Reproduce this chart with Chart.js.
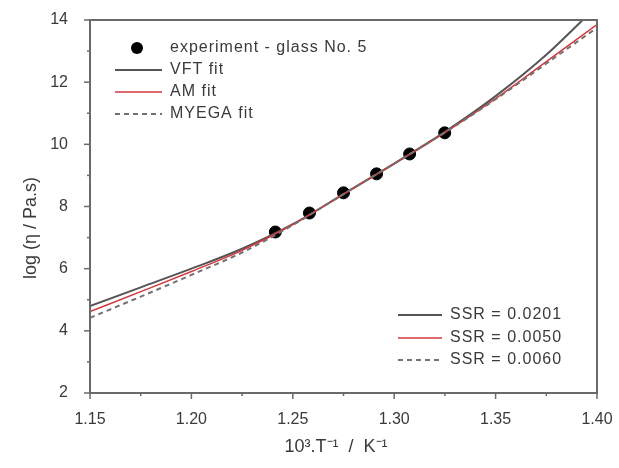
<!DOCTYPE html>
<html lang="en">
<head>
<meta charset="UTF-8">
<title>Viscosity fits</title>
<script src="https://cdn.jsdelivr.net/npm/chart.js"></script>
<style>
  html, body { margin: 0; padding: 0; background: #fff; }
  #wrap { width: 619px; height: 468px; }
</style>
</head>
<body>
<div id="wrap"><canvas id="chart" width="619" height="468"></canvas></div>
<script>
// experiment points (10^3/T, log eta)
const expX = [1.2414, 1.2582, 1.2750, 1.2913, 1.3076, 1.3249];
const expY = [7.18, 7.79, 8.44, 9.05, 9.69, 10.37];

// fitted curves
const fitX  = [1.15, 1.175, 1.20, 1.225, 1.25, 1.275, 1.30, 1.325, 1.35, 1.375, 1.40];
const vft   = [4.80, 5.40, 6.00, 6.64, 7.43, 8.40, 9.38, 10.40, 11.55, 12.88, 14.45];
const am    = [4.62, 5.26, 5.91, 6.59, 7.42, 8.40, 9.38, 10.38, 11.47, 12.66, 13.85];
const myega = [4.42, 5.10, 5.80, 6.52, 7.40, 8.40, 9.38, 10.38, 11.45, 12.60, 13.75];

const legendNames = ['experiment - glass No. 5', 'VFT fit', 'AM fit', 'MYEGA fit'];
const ssrLabels = ['SSR = 0.0201', 'SSR = 0.0050', 'SSR = 0.0060'];

const textColor = '#3a3a3a';
const frameColor = '#6a6a6a';
const vftColor = '#555555';
const amColor = '#d2383c';
const myegaColor = '#777070';

const toPts = (xs, ys) => xs.map((x, i) => ({ x, y: ys[i] }));

// frame, minor ticks, legends and axis titles
const decorations = {
  id: 'decorations',
  afterDraw(chart) {
    const ctx = chart.ctx;
    const a = chart.chartArea;
    const xs = chart.scales.x, ys = chart.scales.y;
    ctx.save();
    ctx.strokeStyle = frameColor;
    ctx.lineWidth = 2;
    ctx.strokeRect(a.left, a.top, a.right - a.left, a.bottom - a.top);

    // ticks: long on labelled values, short in between
    ctx.lineWidth = 1.5;
    xs.ticks.forEach((t) => {
      const px = xs.getPixelForValue(t.value);
      const major = Math.round(t.value * 1000) % 50 === 0;
      ctx.beginPath();
      ctx.moveTo(px, a.bottom);
      ctx.lineTo(px, a.bottom + (major ? 6 : 3));
      ctx.stroke();
    });
    ys.ticks.forEach((t) => {
      const py = ys.getPixelForValue(t.value);
      const major = Math.round(t.value) % 2 === 0;
      ctx.beginPath();
      ctx.moveTo(a.left, py);
      ctx.lineTo(a.left - (major ? 6 : 3), py);
      ctx.stroke();
    });

    ctx.font = '16px "Liberation Sans", Arial, sans-serif';
    ctx.letterSpacing = '1px';
    ctx.fillStyle = textColor;
    ctx.textBaseline = 'middle';
    ctx.textAlign = 'left';

    // upper-left legend
    const rowsY = [48, 70, 92, 114];
    ctx.beginPath();
    ctx.arc(137, rowsY[0], 6, 0, Math.PI * 2);
    ctx.fillStyle = '#000';
    ctx.fill();
    const sample = (y, x0, x1, color, width, dash) => {
      ctx.beginPath();
      ctx.setLineDash(dash);
      ctx.strokeStyle = color;
      ctx.lineWidth = width;
      ctx.moveTo(x0, y);
      ctx.lineTo(x1, y);
      ctx.stroke();
      ctx.setLineDash([]);
    };
    sample(rowsY[1], 115, 162, vftColor, 2, []);
    sample(rowsY[2], 115, 162, amColor, 1.5, []);
    sample(rowsY[3], 115, 162, myegaColor, 2, [5, 4]);
    ctx.fillStyle = textColor;
    legendNames.forEach((n, i) => ctx.fillText(n, 170, rowsY[i]));

    // lower-right SSR legend
    const ssrY = [315, 338, 360];
    sample(ssrY[0], 398, 442, vftColor, 2, []);
    sample(ssrY[1], 398, 442, amColor, 1.5, []);
    sample(ssrY[2], 398, 442, myegaColor, 2, [5, 4]);
    ctx.fillStyle = textColor;
    ssrLabels.forEach((n, i) => ctx.fillText(n, 450, ssrY[i]));

    // axis titles
    ctx.letterSpacing = '0px';
    ctx.font = '18px "Liberation Sans", Arial, sans-serif';
    ctx.textAlign = 'center';
    ctx.fillText('10\u00B3.T\u207B\u00B9  /  K\u207B\u00B9', 336, 447);
    ctx.translate(31, 228);
    ctx.rotate(-Math.PI / 2);
    ctx.fillText('log (\u03B7 / Pa.s)', 0, 0);
    ctx.restore();
  }
};

new Chart(document.getElementById('chart'), {
  type: 'scatter',
  data: {
    datasets: [
      {
        label: 'MYEGA fit',
        data: toPts(fitX, myega),
        showLine: true,
        borderColor: myegaColor,
        borderWidth: 2,
        borderDash: [5, 4],
        pointRadius: 0,
        cubicInterpolationMode: 'monotone'
      },
      {
        label: 'AM fit',
        data: toPts(fitX, am),
        showLine: true,
        borderColor: amColor,
        borderWidth: 1.5,
        pointRadius: 0,
        cubicInterpolationMode: 'monotone'
      },
      {
        label: 'VFT fit',
        data: toPts(fitX, vft),
        showLine: true,
        borderColor: vftColor,
        borderWidth: 2,
        pointRadius: 0,
        cubicInterpolationMode: 'monotone'
      },
      {
        label: 'experiment - glass No. 5',
        data: toPts(expX, expY),
        pointRadius: 6,
        pointBackgroundColor: '#000',
        pointBorderColor: '#000'
      }
    ]
  },
  options: {
    responsive: false,
    animation: false,
    layout: { padding: { top: 20, right: 22, left: 0, bottom: 0 } },
    plugins: { legend: { display: false }, tooltip: { enabled: false } },
    scales: {
      x: {
        type: 'linear',
        min: 1.15,
        max: 1.40,
        grid: { display: false },
        border: { display: false },
        afterFit: (s) => { s.height = 75; s.paddingLeft = 0; s.paddingRight = 0; },
        ticks: {
          stepSize: 0.025,
          autoSkip: false,
          maxRotation: 0,
          padding: 9,
          color: textColor,
          font: { family: '"Liberation Sans", Arial, sans-serif', size: 16 },
          callback: (v) => (Math.round(v * 1000) % 50 === 0 ? Number(v).toFixed(2) : '')
        }
      },
      y: {
        min: 2,
        max: 14,
        grid: { display: false },
        border: { display: false },
        afterFit: (s) => { s.width = 90; s.paddingTop = 0; s.paddingBottom = 0; },
        ticks: {
          stepSize: 1,
          autoSkip: false,
          padding: 14,
          color: textColor,
          font: { family: '"Liberation Sans", Arial, sans-serif', size: 16 },
          callback: (v) => (Math.round(v) % 2 === 0 ? v : '')
        }
      }
    }
  },
  plugins: [decorations]
});
</script>
</body>
</html>
